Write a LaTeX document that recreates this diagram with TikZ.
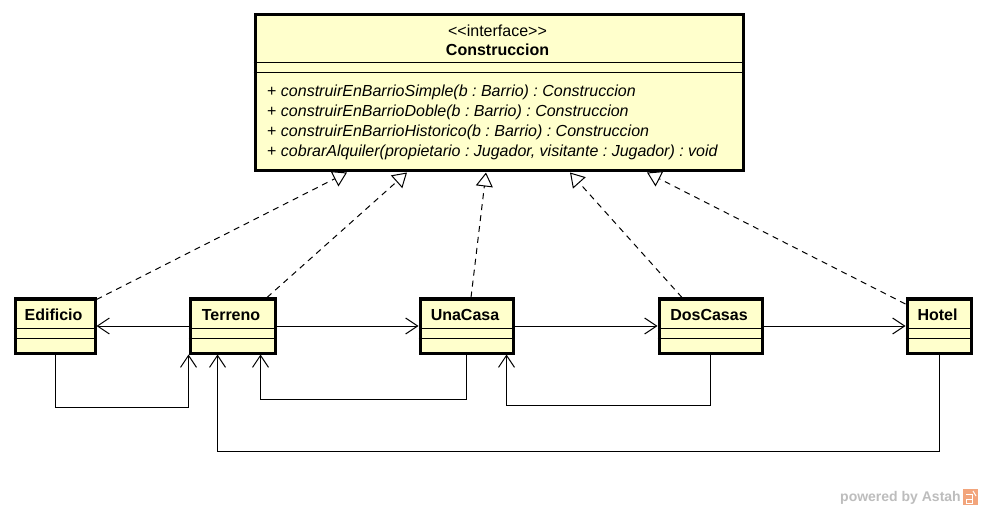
\documentclass[tikz,border=0pt]{standalone}
\usepackage{fontspec}
\setmainfont{Liberation Sans}
\usetikzlibrary{arrows.meta}
\definecolor{classfill}{HTML}{FFFFCC}
\definecolor{wmgray}{HTML}{BDBDBD}
\definecolor{logoorange}{HTML}{F2A57C}
\frenchspacing
\begin{document}
\begin{tikzpicture}[x=1pt,y=-1pt,
  classbox/.style={draw=black, line width=3pt, fill=classfill, rectangle, inner sep=0pt, anchor=north west},
  lbl/.style={inner sep=0pt, font=\fontsize{16}{19}\selectfont},
  namelbl/.style={inner sep=0pt, anchor=base, font=\fontsize{16}{19}\selectfont\bfseries},
  methlbl/.style={inner sep=0pt, anchor=base west, font=\fontsize{16}{19}\selectfont},
  assoc/.style={draw=black, line width=1pt, -{Straight Barb[length=12pt,width=16pt]}},
  real/.style={draw=black, line width=1pt, dash pattern=on 6pt off 5pt, -{Triangle[length=14pt,width=17pt,fill=white]}},
  divider/.style={draw=black, line width=1pt}]

\fill[white] (0,0) rectangle (984,510);
\useasboundingbox (0,0) rectangle (984,510);

% interface
\node[classbox, minimum width=488pt, minimum height=156pt] (iface) at (253.5,13.5) {};
\draw[divider] ([yshift=-49.5pt]iface.north west) -- ([yshift=-49.5pt]iface.north east);
\draw[divider] ([yshift=-59.5pt]iface.north west) -- ([yshift=-59.5pt]iface.north east);
\node[lbl, anchor=base] (ifacest) at (497.5,37) {<{}<interface>{}>};
\node[namelbl] (ifacename) at (497.5,56) {Construccion};
\node[methlbl] (m1) at (267,97) {+ \textit{construirEnBarrioSimple(b : Barrio) : Construccion}};
\node[methlbl] (m2) at (267,117) {+ \textit{construirEnBarrioDoble(b : Barrio) : Construccion}};
\node[methlbl] (m3) at (267,137) {+ \textit{construirEnBarrioHistorico(b : Barrio) : Construccion}};
\node[methlbl] (m4) at (267,157) {+ \textit{cobrarAlquiler(propietario : Jugador, visitante : Jugador) : void}};

% classes
\node[classbox, minimum width=80pt, minimum height=54pt] (edificio) at (13.5,297.5) {};
\node[classbox, minimum width=85pt, minimum height=54pt] (terreno) at (188.5,297.5) {};
\node[classbox, minimum width=93pt, minimum height=54pt] (unacasa) at (418.5,297.5) {};
\node[classbox, minimum width=103pt, minimum height=54pt] (doscasas) at (657.5,297.5) {};
\node[classbox, minimum width=64pt, minimum height=54pt] (hotel) at (905.5,297.5) {};

\foreach \n in {edificio,terreno,unacasa,doscasas,hotel}{
  \draw[divider] ([yshift=-30.5pt]\n.north west) -- ([yshift=-30.5pt]\n.north east);
  \draw[divider] ([yshift=-40.5pt]\n.north west) -- ([yshift=-40.5pt]\n.north east);
}
\node[namelbl] (edificiot) at (53.5,320) {Edificio};
\node[namelbl] (terrenot) at (231,320) {Terreno};
\node[namelbl] (unacasat) at (465,320) {UnaCasa};
\node[namelbl] (doscasast) at (709,320) {DosCasas};
\node[namelbl] (hotelt) at (937.5,320) {Hotel};

% associations
\draw[assoc] (terreno.west) -- (edificio.east);
\draw[assoc] (terreno.east) -- (unacasa.west);
\draw[assoc] (unacasa.east) -- (doscasas.west);
\draw[assoc] (doscasas.east) -- (hotel.west);
\draw[assoc] (edificio.south) -- ++(0,52.5) -| (terreno.south west);
\draw[assoc] (unacasa.south) -- ++(0,44.5) -| ([xshift=72pt]terreno.south west);
\draw[assoc] (hotel.south) -- ++(0,96.5) -| ([xshift=29pt]terreno.south west);
\draw[assoc] (doscasas.south) -- ++(0,50.5) -| ([xshift=-8pt]unacasa.south east);

% realizations
\draw[real] ([yshift=-2pt]edificio.north east) -- ([xshift=93.5pt]iface.south west);
\draw[real] ([xshift=-9.5pt]terreno.north east) -- ([xshift=153.5pt]iface.south west);
\draw[real] ([xshift=4.5pt]unacasa.north) -- ([xshift=232.5pt]iface.south west);
\draw[real] ([xshift=24.5pt]doscasas.north west) -- ([xshift=316.5pt]iface.south west);
\draw[real] ([yshift=-6.5pt]hotel.north west) -- ([xshift=393.5pt]iface.south west);

% watermark
\node[inner sep=0pt, anchor=base west, text=wmgray, font=\fontsize{14}{16}\selectfont\bfseries] (wm) at (840,501) {powered by Astah};
\fill[logoorange] (963,489) rectangle (978,505);
\draw[white, line width=1pt] (966,494) -- (972,494) -- (972,503) -- (966,503) -- (966,499) -- (972,499);
\draw[white, line width=1pt] (973,491) -- (976,496);
\end{tikzpicture}
\end{document}
